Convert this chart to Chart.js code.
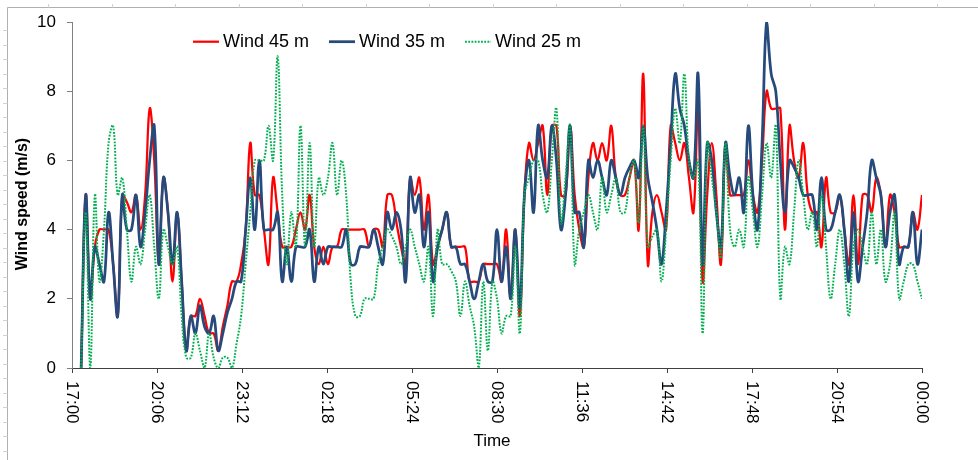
<!DOCTYPE html>
<html>
<head>
<meta charset="utf-8">
<script src="https://cdn.jsdelivr.net/npm/chart.js@4"></script>
<style>
  html, body { margin: 0; padding: 0; background: #fff; }
</style>
</head>
<body>
<canvas id="wind-chart" width="978" height="460"></canvas>
<script>
// readings every 10 minutes, first one at 17:20, last one at 00:00
const startMin = 20;
const stepMin = 10;

const wind45 = [
  0, 5, 2, 3.5, 4, 4, 4, 3, 1.5, 5, 4.8, 4.5, 5, 4, 5, 7.5, 6, 3, 5.5, 4.5,
  2.5, 4.5, 2.5, 0.5, 1.5, 1.5, 2, 1.5, 1, 1, 0.5, 1.2, 1.8, 2.5, 2.5, 3, 4, 6.5, 5, 5,
  4, 3, 5.5, 4.5, 3.5, 3.5, 3.5, 4, 4.5, 4, 5, 3.5, 3, 3.5, 3, 3.5, 3.5, 4, 4, 4,
  4, 4, 4, 3.5, 4, 4, 3.5, 5, 5, 4.2, 3.5, 3, 5.5, 5, 5.5, 4, 5, 3, 3.5, 4,
  4.5, 3.5, 3.5, 3.5, 3.5, 2.5, 2.5, 2.5, 3, 3, 3, 3, 2.5, 4, 2, 4, 1.5, 5, 6.5, 6,
  6.5, 7, 5, 7, 7, 5, 5, 7, 5, 4, 3.5, 5.5, 6.5, 6, 6.5, 6, 7, 5.5, 5,
  5, 5.5, 6, 4, 8.5, 3, 4.5, 5, 4.5, 4, 7, 6.5, 6, 6.5, 5.5, 4.5, 7.5, 2.5, 5, 6.5,
  5, 3, 6.5, 5, 5, 5, 5, 6, 5, 4.5, 6, 8, 7.5, 7.5, 7.5, 4, 7, 6, 5.5, 6.5,
  5, 4.5, 4.5, 3.5, 5.5, 4.5, 4.5, 5, 4, 3, 5, 3, 5, 5, 4.5, 5.5, 5, 3.5, 5, 4.5,
  3.5, 3.5, 3.5, 4.5, 4, 5
];

const wind35 = [
  0, 5, 2, 3.5, 3, 2.5, 4.5, 3, 1.5, 5, 4, 4, 5, 3.5, 4.5, 6, 7, 3, 5.5, 4.5,
  3, 4.5, 2.5, 0.5, 1.5, 1, 1.8, 1.2, 1, 1.5, 0.5, 1, 1.6, 2, 2.5, 2.5, 4, 5.5, 4, 6,
  4, 4, 4, 4.5, 2.5, 3.5, 2.5, 3.5, 3.5, 3.5, 4, 2.5, 3.5, 3, 3.5, 3.5, 3.5, 3.5, 4, 3,
  3, 3.5, 3.5, 3.5, 4, 3.5, 3, 4.5, 4, 4.5, 4, 2.5, 5.5, 4.5, 5, 3.5, 4.5, 2.5, 3.5, 4,
  4.5, 3.5, 3.5, 3, 3, 2.5, 2, 2.5, 3, 2.5, 2.5, 4, 2.5, 3.5, 2, 4, 1.75, 5, 6, 4.5,
  7, 6, 5.5, 7, 6, 4, 5, 7, 4.5, 4.5, 3.5, 6, 5.5, 6, 5.5, 5, 6, 5.5, 5,
  5.5, 5.8, 6, 5.5, 7, 5.5, 4.8, 4, 3, 4.5, 6.5, 8.5, 7.5, 7, 6, 5.5, 8.5, 3, 6.5, 6,
  4.5, 3.5, 6.5, 5.5, 5, 5.5, 4.5, 7, 5, 4, 6.5, 10, 8.5, 8, 6, 4.5, 6, 5.8, 5.5, 5,
  5, 5, 4, 5.5, 4, 4, 4.5, 5, 4, 2.5, 4.5, 2.5, 3.5, 4.5, 6, 5.5, 5, 3.5, 4.5, 5,
  3, 3.5, 3.5, 4.5, 3, 4
];

const wind25 = [
  0, 4.5, 0, 5, 2.5, 4, 6.5, 7, 5, 5.5, 4, 2.5, 3.5, 3, 4, 5, 3.5, 2, 4, 3.5,
  3, 3.5, 1.5, 0.3, 0.3, 1, 0.5, 0, 1, 0.3, 0, 0.3, 0.3, 0, 0.7, 1.5, 3, 4.5, 6, 6,
  6, 7, 6, 9, 5, 3, 4.5, 3.5, 7, 3.5, 6.5, 3.5, 5.5, 5, 5.5, 6.5, 5, 6, 5, 2.5,
  1.5, 1.5, 2, 2, 2, 3, 3.5, 4, 3.8, 3.5, 3, 3.5, 4, 3.5, 3, 2.5, 3.5, 1.5, 4, 3,
  3, 2.8, 2.5, 1.5, 2.5, 1.8, 1.2, 0, 2.5, 0.5, 2.5, 2, 1, 1.5, 1.5, 3.5, 1, 5, 5.5, 6,
  6, 5, 4.5, 6, 7.5, 4.2, 5.5, 7, 3, 4, 4.5, 5, 4.5, 4, 5.5, 4.5, 5, 5.5, 4.5,
  4.5, 5.5, 6, 4.2, 7, 3.5, 3.8, 4, 2.5, 4, 6, 7.5, 6.5, 8.5, 6, 5.5, 6, 1, 6.5, 5.5,
  4.5, 3.2, 6.5, 4, 3.5, 4, 3.5, 5.5, 4.5, 3.5, 5, 6.5, 5.5, 7, 2, 3.5, 3, 4.5, 6, 5,
  4, 4.5, 3.5, 5, 3.5, 2, 3, 4, 3, 1.5, 3.5, 4, 3.5, 3, 4.5, 3, 4, 2.5, 3, 4.5,
  2, 2.5, 3, 3, 2.5, 2
];

const seriesNames = ["Wind 45 m", "Wind 35 m", "Wind 25 m"];
const tickLabels = ["17:00", "20:06", "23:12", "02:18", "05:24", "08:30", "11:36", "14:42", "17:48", "20:54", "00:00"];
const tickStepMin = 186;

const times = wind45.map((_, i) => startMin + i * stepMin);
const toPoints = arr => arr.map((v, i) => ({ x: times[i], y: v }));

const FONT = '"Liberation Sans", Arial, sans-serif';

const decor = {
  id: "decor",
  beforeDraw(chart) {
    const c = chart.ctx;
    c.save();
    c.fillStyle = "#fff";
    c.fillRect(0, 0, chart.width, chart.height);
    // outer frame with ruler marks
    c.strokeStyle = "#b0b0b0";
    c.lineWidth = 1;
    c.beginPath();
    c.moveTo(7.5, chart.height);
    c.lineTo(7.5, 7.5);
    c.lineTo(chart.width, 7.5);
    c.stroke();
    c.strokeStyle = "#d2d2d2";
    c.beginPath();
    for (let x = 48; x < chart.width; x += 63.5) {
      c.moveTo(Math.round(x) + 0.5, 4);
      c.lineTo(Math.round(x) + 0.5, 7.5);
    }
    for (let y = 30; y < chart.height; y += 14.5) {
      c.moveTo(3, Math.round(y) + 0.5);
      c.lineTo(7.5, Math.round(y) + 0.5);
    }
    c.stroke();
    c.restore();
  },
  afterDraw(chart) {
    const c = chart.ctx;
    const xs = chart.scales.x;
    c.save();
    c.fillStyle = "#000";

    // x tick labels, turned clockwise
    c.font = "17px " + FONT;
    c.textAlign = "left";
    c.textBaseline = "middle";
    xs.ticks.forEach((t, i) => {
      c.save();
      c.translate(xs.getPixelForValue(t.value), xs.top + 13);
      c.rotate(Math.PI / 2);
      c.fillText(tickLabels[i], 0, 0);
      c.restore();
    });

    // axis titles
    c.font = "17px " + FONT;
    c.textAlign = "center";
    c.fillText("Time", 492, 441);

    c.font = "bold 16px " + FONT;
    c.save();
    c.translate(22.5, 204);
    c.rotate(-Math.PI / 2);
    c.fillText("Wind speed (m/s)", 0, 0);
    c.restore();

    // legend
    c.font = "18px " + FONT;
    c.textAlign = "left";
    let x = 193;
    const y = 41.7;
    chart.data.datasets.forEach(ds => {
      c.save();
      c.strokeStyle = ds.borderColor;
      c.lineWidth = ds.borderWidth;
      c.setLineDash(ds.borderDash || []);
      c.beginPath();
      c.moveTo(x, y);
      c.lineTo(x + 26, y);
      c.stroke();
      c.restore();
      c.fillText(ds.label, x + 30, y);
      x += 30 + c.measureText(ds.label).width + 20;
    });
    c.restore();
  }
};

new Chart(document.getElementById("wind-chart"), {
  type: "line",
  data: {
    datasets: [
      { label: seriesNames[0], data: toPoints(wind45), borderColor: "#ff0000", borderWidth: 2.25, order: 3 },
      { label: seriesNames[1], data: toPoints(wind35), borderColor: "#264a7c", borderWidth: 2.75, order: 2 },
      { label: seriesNames[2], data: toPoints(wind25), borderColor: "#00b050", borderWidth: 2, borderDash: [1.8, 1.4], order: 1 }
    ]
  },
  options: {
    responsive: false,
    animation: false,
    devicePixelRatio: 1,
    layout: { padding: { left: 0, right: 56, top: 22, bottom: 0 } },
    elements: {
      point: { radius: 0 },
      line: { tension: 0.4, fill: false }
    },
    plugins: {
      legend: { display: false },
      tooltip: { enabled: false }
    },
    scales: {
      x: {
        type: "linear",
        min: 0,
        max: tickStepMin * (tickLabels.length - 1),
        afterBuildTicks: s => { s.ticks = tickLabels.map((_, i) => ({ value: i * tickStepMin })); },
        afterFit: s => { s.height = 92; },
        ticks: { display: false },
        grid: { drawOnChartArea: false, tickLength: 5, color: "#404040" },
        border: { color: "#404040", width: 1 }
      },
      y: {
        min: 0,
        max: 10,
        afterFit: s => { s.width = 72; },
        ticks: { stepSize: 2, color: "#000", padding: 11, font: { family: FONT, size: 17 } },
        grid: { drawOnChartArea: false, tickLength: 5, color: "#808080" },
        border: { color: "#808080", width: 1 }
      }
    }
  },
  plugins: [decor]
});
</script>
</body>
</html>
